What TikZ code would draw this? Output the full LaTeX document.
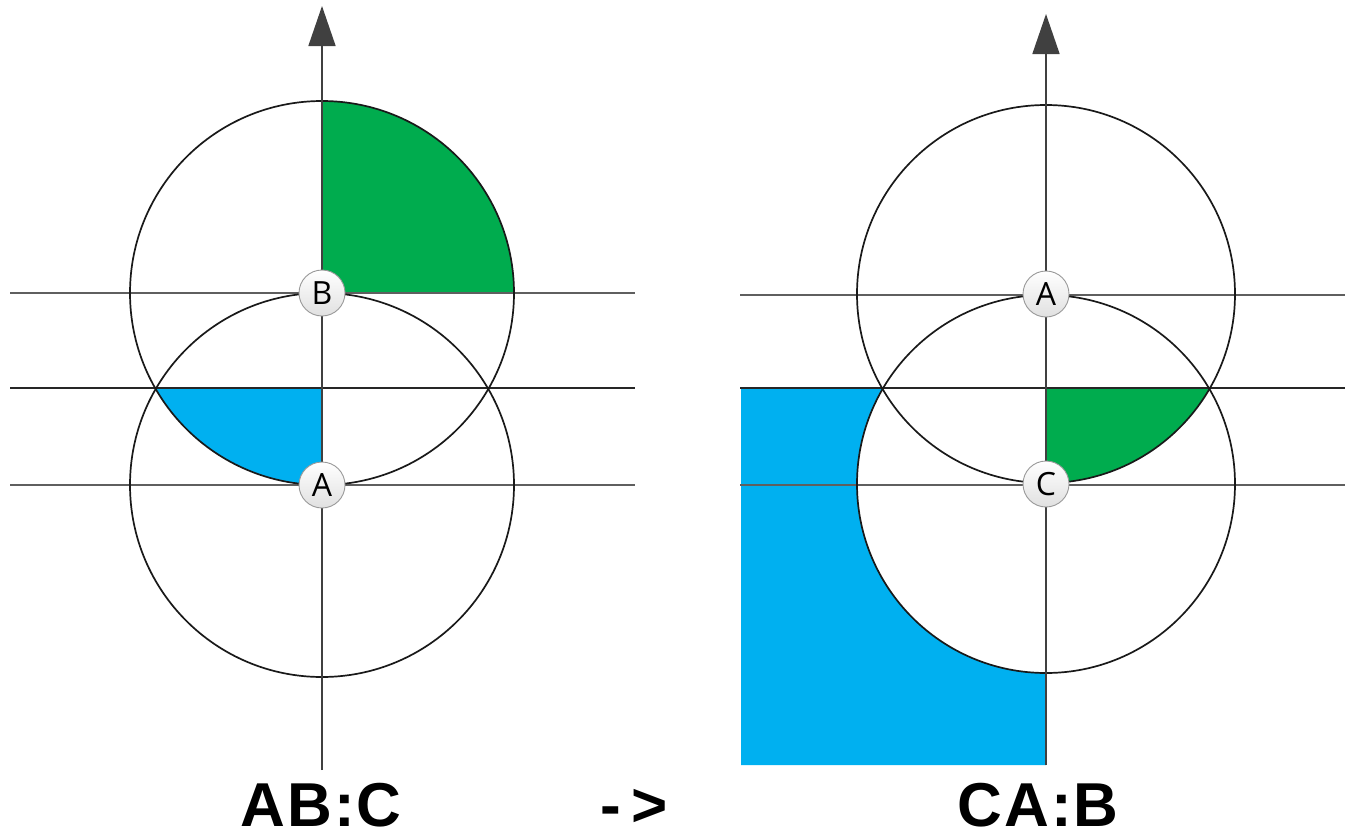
\documentclass[tikz,border=0pt]{standalone}
\usepackage{fontspec}
\setmainfont{Liberation Sans}
\newfontfamily\lblfont{Open Sans}
\usetikzlibrary{arrows.meta}
\definecolor{sgreen}{RGB}{0,172,78}
\definecolor{sblue}{RGB}{0,176,240}
\definecolor{lgray}{RGB}{95,95,95}
\definecolor{agray}{RGB}{64,64,64}
\tikzset{
  hline/.style={draw=lgray,line width=1.9pt},
  hlinedark/.style={draw=black!85,line width=1.7pt},
  ring/.style={draw=black!90,line width=1.7pt},
  axis/.style={draw=agray,line width=1.6pt,-{Triangle[width=27pt,length=40pt]}},
  pt/.style={circle,draw=black!40,line width=0.9pt,minimum size=46pt,inner sep=0pt,
    top color=white,bottom color=black!12,font=\lblfont\fontsize{32}{32}\selectfont},
  title/.style={anchor=base,inner sep=0pt,font=\fontsize{62}{62}\selectfont\bfseries}
}
\begin{document}
\begin{tikzpicture}[x=1pt,y=-1pt]
\useasboundingbox (0,0) rectangle (1345,830);
% ---------- left ----------
\coordinate (cB) at (322,293);
\coordinate (cA) at (322,485);
\begin{scope}
  \clip (cB) circle[radius=192pt];
  \fill[sgreen] (322,293) rectangle (530,90);
  \fill[sblue] (120,388) rectangle (322,500);
\end{scope}
\draw[hline] (10,293) -- (635,293);
\draw[hlinedark] (10,388) -- (635,388);
\draw[hline] (10,485) -- (635,485);
\draw[ring] (cB) circle[radius=192pt];
\draw[ring] (cA) circle[radius=192pt];
\coordinate (axLs) at (322,770);
\coordinate (axLe) at (322,6);
\draw[axis] (axLs) -- (axLe);
\node[pt] (nB) at (cB) {B};
\node[pt] (nA) at (cA) {A};
% ---------- right ----------
\coordinate (rA) at (1046,294);
\coordinate (rC) at (1046,484);
\begin{scope}
  \clip (rA) circle[radius=189pt];
  \fill[sgreen] (1046,388) rectangle (1250,500);
\end{scope}
\begin{scope}
  \clip (741,388) rectangle (1046,765);
  \fill[sblue,even odd rule] (741,388) rectangle (1046,765) (rC) circle[radius=189pt];
\end{scope}
\draw[hline] (740,295) -- (1345,295);
\draw[hlinedark] (740,388) -- (1345,388);
\draw[hline] (740,485) -- (1345,485);
\draw[ring] (rA) circle[radius=189pt];
\draw[ring] (rC) circle[radius=189pt];
\coordinate (axRs) at (1046,765);
\coordinate (axRe) at (1046,14);
\draw[axis] (axRs) -- (axRe);
\node[pt] (nA2) at (rA) {A};
\node[pt] (nC) at (rC) {C};
% ---------- titles ----------
\node[title] (t1) at (321,826) {A\kern2pt B\kern2pt :\kern2pt C};
\node[title] (t2) at (634,826) {-\kern11pt >};
\node[title] (t3) at (1038,826) {C\kern2pt A\kern2pt :\kern2pt B};
\end{tikzpicture}
\end{document}
